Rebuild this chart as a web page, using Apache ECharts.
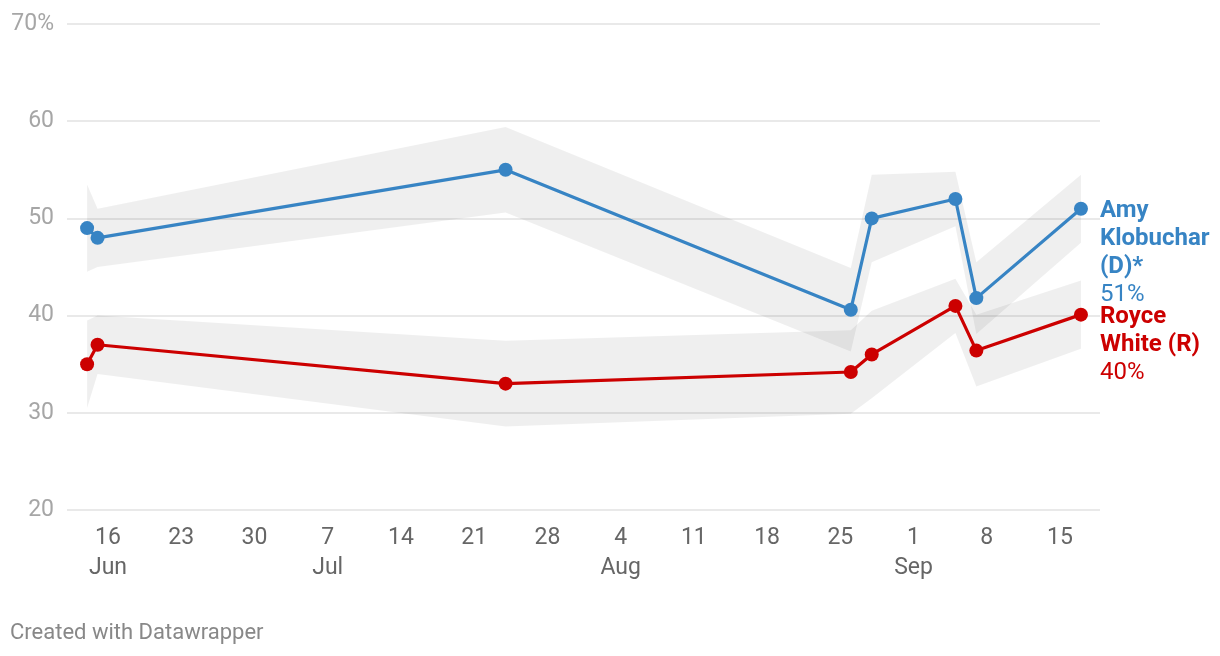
<!DOCTYPE html>
<html><head><meta charset="utf-8">
<script src="https://cdn.jsdelivr.net/npm/echarts@6/dist/echarts.min.js"></script>
<style>html,body{margin:0;padding:0;background:#fff}#c{width:1220px;height:656px}</style>
</head><body><div id="c"></div>
<script>
// ---- data ----
const pollDates = ['2024-06-14','2024-06-15','2024-07-24','2024-08-26','2024-08-28','2024-09-05','2024-09-07','2024-09-17'];
const klobuchar = [49, 48, 55, 40.6, 50, 52, 41.8, 51];
const white     = [35, 37, 33, 34.2, 36, 41, 36.4, 40.1];
const moe       = [4.5, 3, 4.4, 4.3, 4.5, 2.8, 3.7, 3.5];
const tickDates = ['2024-06-16','2024-06-23','2024-06-30','2024-07-07','2024-07-14','2024-07-21','2024-07-28','2024-08-04','2024-08-11','2024-08-18','2024-08-25','2024-09-01','2024-09-08','2024-09-15'];
const monthNames = ['Jan','Feb','Mar','Apr','May','Jun','Jul','Aug','Sep','Oct','Nov','Dec'];
const yTicks = [20, 30, 40, 50, 60, 70];
const seriesNames = ['Amy\nKlobuchar\n(D)*', 'Royce\nWhite (R)'];
const colors = ['#3784c4', '#cc0000'];

function ts(d){ const p = d.split('-').map(Number); return Date.UTC(p[0], p[1]-1, p[2]); }
const DAY = 86400000;
const xMin = ts('2024-06-12') + 0.08*DAY;
const xMax = ts('2024-09-18') + 0.82*DAY;
const tickTs = tickDates.map(ts);

function bandSeries(vals){
  return {
    type: 'custom',
    silent: true,
    z: 1,
    encode: {x: 0, y: 1},
    data: pollDates.map((d,i)=>[ts(d), vals[i]]),
    renderItem: function(params, api){
      if (params.dataIndex !== 0) return null;
      const top = vals.map((v,i)=>api.coord([ts(pollDates[i]), v + moe[i]]));
      const bot = vals.map((v,i)=>api.coord([ts(pollDates[i]), v - moe[i]])).reverse();
      return {type:'polygon', shape:{points: top.concat(bot)}, style:{fill:'rgba(0,0,0,0.062)'}};
    }
  };
}

function lineSeries(vals, idx){
  const c = colors[idx];
  return {
    type: 'line',
    z: 3,
    data: pollDates.map((d,i)=>[ts(d), vals[i]]),
    symbol: 'circle',
    symbolSize: 14,
    showAllSymbol: true,
    lineStyle: {width: 3.2, color: c},
    itemStyle: {color: c},
    endLabel: {
      show: true,
      distance: 19,
      align: 'left',
      verticalAlign: 'top',
      offset: [0, -12],
      formatter: function(p){
        const lines = seriesNames[idx].split('\n').map(l=>'{n|'+l+'}');
        lines.push('{v|'+Math.round(p.value[1])+'%}');
        return lines.join('\n');
      },
      rich: {
        n: {fontFamily:'Roboto', fontWeight:'bold', fontSize:24, lineHeight:28, color:c},
        v: {fontFamily:'Roboto', fontWeight:'normal', fontSize:24, lineHeight:28, color:c}
      }
    },
    emphasis: {disabled: true}
  };
}

const chart = echarts.init(document.getElementById('c'), null, {renderer:'canvas'});
chart.setOption({
  animation: false,
  backgroundColor: '#ffffff',
  textStyle: {fontFamily: 'Roboto'},
  grid: {left: 67, right: 120, top: 24, bottom: 146, containLabel: false},
  xAxis: {
    type: 'value',
    min: xMin,
    max: xMax,
    axisLine: {show: false},
    axisTick: {show: false},
    splitLine: {show: false},
    axisLabel: {
      customValues: tickTs,
      fontFamily: 'Roboto',
      fontSize: 23,
      lineHeight: 30,
      color: '#666666',
      margin: 13,
      hideOverlap: false,
      showMinLabel: true,
      showMaxLabel: true,
      formatter: function(val){
        const d = new Date(val);
        const i = tickTs.indexOf(val);
        const m = d.getUTCMonth();
        const first = i === 0 || new Date(tickTs[i-1]).getUTCMonth() !== m;
        return d.getUTCDate() + (first ? '\n' + monthNames[m] : '');
      }
    }
  },
  yAxis: {
    type: 'value',
    min: yTicks[0],
    max: yTicks[yTicks.length-1],
    interval: 10,
    axisLine: {show: false},
    axisTick: {show: false},
    splitLine: {lineStyle: {color: '#e2e2e2', width: 1.5}},
    axisLabel: {
      fontFamily: 'Roboto',
      fontSize: 23,
      color: '#a6a6a6',
      margin: 13,
      formatter: function(v){ return v === yTicks[yTicks.length-1] ? v + '%' : String(v); }
    }
  },
  graphic: [{
    type: 'text',
    left: 10,
    top: 622,
    style: {text: 'Created with Datawrapper', fontFamily: 'Roboto', fontSize: 22, fill: '#888888'}
  }],
  series: [
    bandSeries(klobuchar),
    bandSeries(white),
    lineSeries(klobuchar, 0),
    lineSeries(white, 1)
  ]
});
</script>
</body></html>
